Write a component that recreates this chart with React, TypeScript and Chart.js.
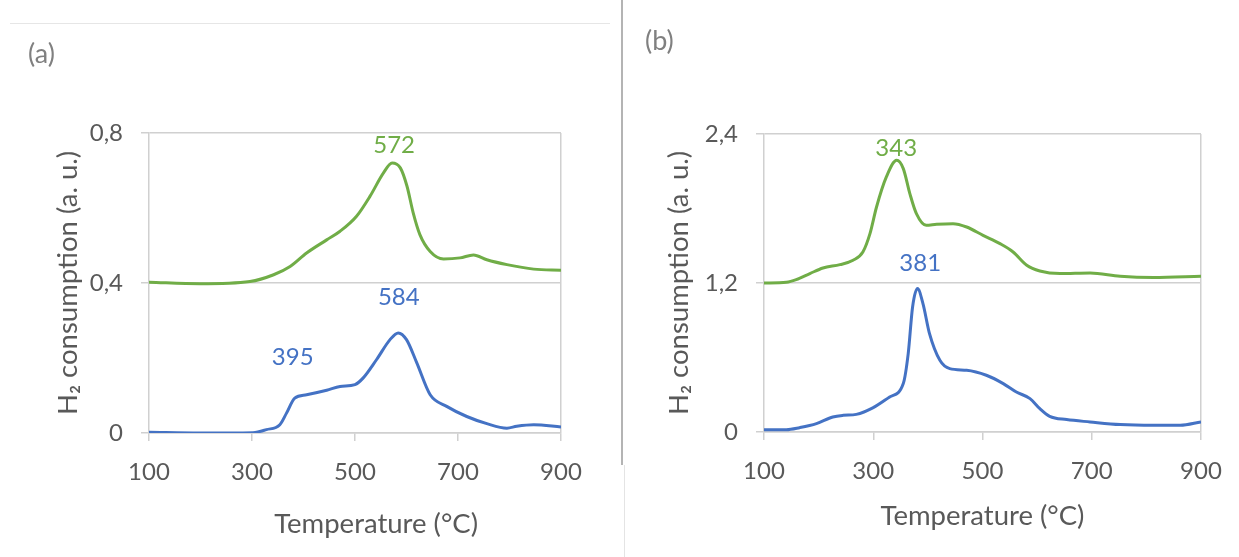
import React, { useEffect, useRef } from 'react';
import { Chart, registerables } from 'chart.js';

Chart.register(...registerables);

// ---------- data ----------
const xTickLabels = ['100', '300', '500', '700', '900'];
const yTickLabelsA = ['0', '0,4', '0,8'];
const yTickLabelsB = ['0', '1,2', '2,4'];

const tempAGreen = [100, 199, 296, 342, 374, 406, 445, 471, 503, 529, 555, 572, 588, 601, 613, 626, 646, 672, 704, 730, 756, 795, 847, 900];
const h2AGreen = [0.402, 0.398, 0.404, 0.422, 0.444, 0.48, 0.515, 0.538, 0.578, 0.631, 0.693, 0.72, 0.707, 0.658, 0.587, 0.529, 0.484, 0.464, 0.467, 0.475, 0.462, 0.449, 0.437, 0.434];

const tempABlue = [100, 198, 302, 328, 354, 367, 383, 406, 445, 471, 500, 516, 542, 568, 584, 600, 620, 646, 678, 717, 756, 795, 814, 847, 900];
const h2ABlue = [0.002, 0.0, 0.001, 0.009, 0.022, 0.053, 0.093, 0.102, 0.114, 0.124, 0.129, 0.147, 0.196, 0.249, 0.267, 0.249, 0.187, 0.102, 0.071, 0.044, 0.025, 0.013, 0.018, 0.022, 0.016];

const tempBGreen = [100, 141, 159, 184, 208, 239, 263, 281, 294, 306, 324, 343, 355, 367, 379, 397, 416, 446, 471, 501, 532, 556, 581, 605, 642, 697, 752, 813, 900];
const h2BGreen = [1.2, 1.206, 1.227, 1.276, 1.321, 1.348, 1.383, 1.45, 1.598, 1.812, 2.054, 2.188, 2.121, 1.92, 1.759, 1.665, 1.673, 1.678, 1.651, 1.584, 1.517, 1.45, 1.343, 1.297, 1.276, 1.281, 1.254, 1.244, 1.254];

const tempBBlue = [100, 141, 165, 196, 226, 245, 269, 300, 330, 355, 364, 372, 381, 391, 403, 422, 440, 471, 507, 538, 562, 587, 605, 623, 654, 697, 752, 813, 862, 900];
const h2BBlue = [0.019, 0.019, 0.035, 0.067, 0.121, 0.134, 0.142, 0.196, 0.282, 0.39, 0.631, 1.007, 1.155, 1.034, 0.792, 0.577, 0.51, 0.497, 0.457, 0.39, 0.322, 0.269, 0.188, 0.126, 0.1, 0.081, 0.06, 0.054, 0.054, 0.081];

// peak labels (text, temperature, value)
const peakLabelsA = [
  { text: '572', x: 576, y: 0.766, series: 'green' },
  { text: '584', x: 585, y: 0.362, series: 'blue' },
  { text: '395', x: 379, y: 0.201, series: 'blue' },
];
const peakLabelsB = [
  { text: '343', x: 342, y: 2.289, series: 'green' },
  { text: '381', x: 386, y: 1.359, series: 'blue' },
];

const xTitle = 'Temperature (°C)';
const yTitle = 'H₂ consumption (a. u.)';

// ---------- style ----------
const GREEN = '#70AD47';
const BLUE = '#4472C4';
const GRID = '#d0d0d0';
const TEXT = '#595959';
const FONT = "Lato, 'Open Sans', sans-serif";
const TICK_SIZE = 24;
const TITLE_SIZE = 27.5;

const toPoints = (xs: number[], ys: number[]) => xs.map((x, i) => ({ x, y: ys[i] }));

type PanelProps = {
  left: number;
  width: number;
  area: { left: number; right: number; top: number; bottom: number };
  yMax: number;
  yStep: number;
  yLabels: string[];
  green: { x: number; y: number }[];
  blue: { x: number; y: number }[];
  peaks: { text: string; x: number; y: number; series: string }[];
  yTitlePad: number;
  xTitlePad: number;
  xTitleIndent: number;
};

const H = 557;

function Panel(p: PanelProps) {
  const ref = useRef<HTMLCanvasElement>(null);
  useEffect(() => {
    if (!ref.current) return;
    const peakPlugin = {
      id: 'peaks',
      afterDatasetsDraw(chart: any) {
        const ctx = chart.ctx;
        ctx.save();
        ctx.font = `${TICK_SIZE}px ${FONT}`;
        ctx.textAlign = 'center';
        ctx.textBaseline = 'middle';
        p.peaks.forEach((pk) => {
          ctx.fillStyle = pk.series === 'green' ? GREEN : BLUE;
          ctx.fillText(pk.text, chart.scales.x.getPixelForValue(pk.x), chart.scales.y.getPixelForValue(pk.y));
        });
        ctx.restore();
      },
    };
    const chart = new Chart(ref.current, {
      type: 'line',
      data: {
        datasets: [
          { data: p.green, borderColor: GREEN, borderWidth: 3, pointRadius: 0, cubicInterpolationMode: 'monotone', fill: false },
          { data: p.blue, borderColor: BLUE, borderWidth: 3, pointRadius: 0, cubicInterpolationMode: 'monotone', fill: false },
        ],
      },
      options: {
        animation: false,
        responsive: false,
        devicePixelRatio: 1,
        layout: { padding: { left: 0, top: p.area.top, right: p.width - p.area.right, bottom: 0 } },
        plugins: { legend: { display: false }, tooltip: { enabled: false } },
        scales: {
          x: {
            type: 'linear',
            min: 100,
            max: 900,
            ticks: {
              stepSize: 200,
              color: TEXT,
              font: { family: FONT, size: TICK_SIZE },
              padding: 17,
              maxRotation: 0,
              callback: (_v: any, i: number) => xTickLabels[i],
            },
            grid: {
              color: (c: any) => (c.tick && c.tick.value === 900 ? GRID : 'rgba(0,0,0,0)'),
              tickColor: GRID,
              tickLength: 8,
              lineWidth: 1.5,
            },
            border: { display: true, color: GRID, width: 1.5 },
            title: {
              display: true,
              text: ' '.repeat(p.xTitleIndent) + xTitle,
              color: TEXT,
              font: { family: FONT, size: TITLE_SIZE },
              padding: { top: 0, bottom: p.xTitlePad },
            },
            afterFit: (s: any) => { s.height = H - p.area.bottom; },
          },
          y: {
            min: 0,
            max: p.yMax,
            ticks: {
              stepSize: p.yStep,
              color: TEXT,
              font: { family: FONT, size: TICK_SIZE },
              padding: 18,
              callback: (_v: any, i: number) => p.yLabels[i],
            },
            grid: { color: GRID, tickColor: GRID, tickLength: 8, lineWidth: 1.5 },
            border: { display: true, color: GRID, width: 1.5 },
            title: {
              display: true,
              text: yTitle,
              color: TEXT,
              font: { family: FONT, size: TITLE_SIZE },
              padding: { top: p.yTitlePad, bottom: 0 },
            },
            afterFit: (s: any) => { s.width = p.area.left; },
          },
        },
      },
      plugins: [peakPlugin],
    } as any);
    return () => chart.destroy();
  }, []);
  return (
    <canvas
      ref={ref}
      width={p.width}
      height={H}
      style={{ position: 'absolute', left: p.left, top: 0, width: p.width, height: H }}
    />
  );
}

export default function App() {
  return (
    <div style={{ position: 'fixed', left: 0, top: 0, width: 1239, height: H, background: '#fff', overflow: 'hidden' }}>
      <div style={{ position: 'absolute', left: 10, top: 23, width: 600, height: 1, background: '#e6e6e6' }} />
      <div style={{ position: 'absolute', left: 621, top: 0, width: 2, height: 465, background: '#b4b4b4' }} />
      <div style={{ position: 'absolute', left: 624, top: 465, width: 1, height: 92, background: '#e4e4e4' }} />
      <Panel
        left={0}
        width={620}
        area={{ left: 149, right: 561, top: 133, bottom: 433 }}
        yMax={0.8}
        yStep={0.4}
        yLabels={yTickLabelsA}
        green={toPoints(tempAGreen, h2AGreen)}
        blue={toPoints(tempABlue, h2ABlue)}
        peaks={peakLabelsA}
        yTitlePad={52}
        xTitlePad={16}
        xTitleIndent={6}
      />
      <Panel
        left={625}
        width={614}
        area={{ left: 139, right: 576, top: 134, bottom: 432 }}
        yMax={2.4}
        yStep={1.2}
        yLabels={yTickLabelsB}
        green={toPoints(tempBGreen, h2BGreen)}
        blue={toPoints(tempBBlue, h2BBlue)}
        peaks={peakLabelsB}
        yTitlePad={38}
        xTitlePad={24}
        xTitleIndent={0}
      />
      <div style={{ position: 'absolute', left: 28, top: 37, font: `27px ${FONT}`, color: '#808080', lineHeight: '32px' }}>(a)</div>
      <div style={{ position: 'absolute', left: 645, top: 24, font: `27px ${FONT}`, color: '#808080', lineHeight: '32px' }}>(b)</div>
    </div>
  );
}
